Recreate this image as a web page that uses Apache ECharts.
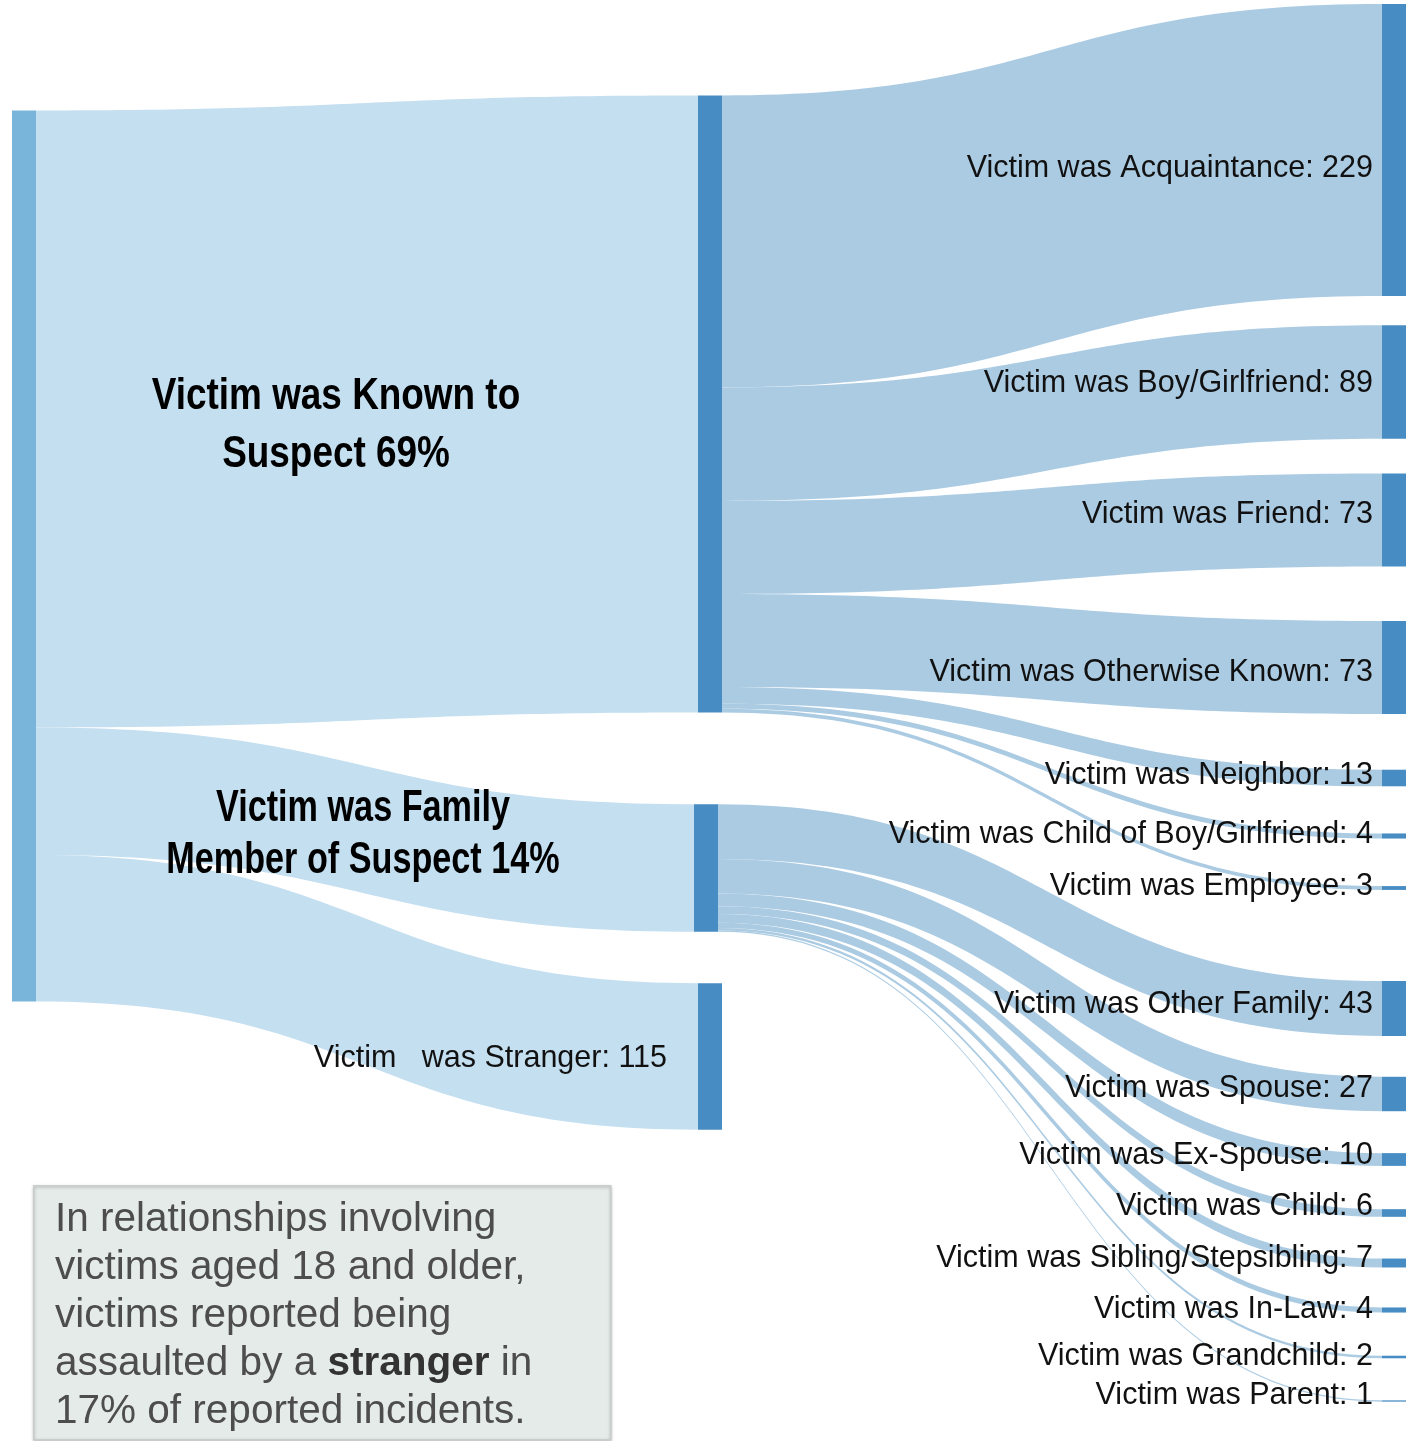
<!DOCTYPE html>
<html>
<head>
<meta charset="utf-8">
<script src="https://cdn.jsdelivr.net/npm/echarts@6/dist/echarts.min.js"></script>
<style>
  html, body { margin: 0; padding: 0; background: #ffffff; }
  #chart { width: 1413px; height: 1441px; }
</style>
</head>
<body>
<div id="chart"></div>
<script>
// ---------------- DATA ----------------
const rootName = 'Victims aged 18 and older';
const groupNames = ['Victim was Known to Suspect', 'Victim was Family Member of Suspect', 'Victim was Stranger'];
const groupLabels = ['Victim was Known to\nSuspect 69%', 'Victim was Family\nMember of Suspect 14%', 'Victim   was Stranger'];
const knownCategories = ['Victim was Acquaintance', 'Victim was Boy/Girlfriend', 'Victim was Friend',
  'Victim was Otherwise Known', 'Victim was Neighbor', 'Victim was Child of Boy/Girlfriend', 'Victim was Employee'];
const knownValues = [229, 89, 73, 73, 13, 4, 3];
const familyCategories = ['Victim was Other Family', 'Victim was Spouse', 'Victim was Ex-Spouse', 'Victim was Child',
  'Victim was Sibling/Stepsibling', 'Victim was In-Law', 'Victim was Grandchild', 'Victim was Parent'];
const familyValues = [43, 27, 10, 6, 7, 4, 2, 1];
const strangerValue = 115;
const noteText = 'In relationships involving\nvictims aged 18 and older,\nvictims reported being\nassaulted by a {b|stranger} in\n17% of reported incidents.';

// ---------------- LAYOUT (pixels) ----------------
const W = 1413, H = 1441;
const KY = 1.275;                // px per incident (same scale ECharts derives below)
const NODE_W = 24;
const rootX = 12, rootCY = 556;
const groupX = [698, 694, 698], groupCY = [404, 868, 1056.5];
const groupLabelPos = [[336, 426, 58, 0.82], [363, 835, 52, 0.76]];   // centre x, centre y, line height, x-scale
const leafX = 1382;
const knownCY = [150, 382, 520, 667.5, 778, 836, 888];
const familyCY = [1008.5, 1094, 1159.5, 1213, 1263, 1310, 1357, 1401];
const knownLabelDY = [19, 2, -5, 5, -2, -1, -1];
const familyLabelDY = [-4, -5, -4, -6, -4, 0, 0, -5];

// ---------------- STYLE ----------------
const C_ROOT = '#79b5da', C_NODE = '#478cc3', C_LINK1 = '#c4dff0', C_LINK2 = '#abcbe3';
const FONT = "'Liberation Sans', Arial, sans-serif";

const sum = a => a.reduce((s, v) => s + v, 0);
const groupValues = [sum(knownValues), sum(familyValues), strangerValue];
const total = sum(groupValues);
// nodeGap chosen so that ECharts' own vertical scale equals KY (the 15 leaf nodes limit the scale)
const leafCount = knownCategories.length + familyCategories.length;
const leafTotal = sum(knownValues) + sum(familyValues);
const NODE_GAP = (H - leafTotal * KY) / (leafCount - 1);

function place(x, cy, value) {
  return { localX: x / W, localY: (cy - value * KY / 2) / H };
}

const nodes = [];
const links = [];
nodes.push(Object.assign({ name: rootName, itemStyle: { color: C_ROOT }, label: { show: false } },
  place(rootX, rootCY, total)));

groupNames.forEach((g, i) => {
  const n = Object.assign({ name: g, itemStyle: { color: C_NODE } }, place(groupX[i], groupCY[i], groupValues[i]));
  if (i < 2) {
    n.label = { show: false };   // drawn below as condensed bold text
  } else {
    n.label = { position: 'left', distance: 31, offset: [0, 2], fontFamily: FONT, fontSize: 30.5, color: '#111',
      formatter: p => groupLabels[i] + ': ' + p.value };
  }
  nodes.push(n);
  links.push({ source: rootName, target: g, value: groupValues[i], lineStyle: { color: C_LINK1 } });
});

function addLeaves(parent, cats, vals, cys, dys) {
  cats.forEach((c, i) => {
    nodes.push(Object.assign({ name: c, itemStyle: { color: C_NODE }, label: { offset: [0, dys[i]] } },
      place(leafX, cys[i], vals[i])));
    links.push({ source: parent, target: c, value: vals[i], lineStyle: { color: C_LINK2 } });
  });
}
addLeaves(groupNames[0], knownCategories, knownValues, knownCY, knownLabelDY);
addLeaves(groupNames[1], familyCategories, familyValues, familyCY, familyLabelDY);

const condensedLabels = groupLabelPos.map((p, i) => ({
  type: 'text', x: p[0], y: p[1], scaleX: p[3], scaleY: 1, z: 50,
  style: { text: groupLabels[i], align: 'center', verticalAlign: 'middle',
    fontFamily: FONT, fontWeight: 'bold', fontSize: 45, lineHeight: p[2], fill: '#000' }
}));

const chart = echarts.init(document.getElementById('chart'), null, { renderer: 'canvas' });
chart.setOption({
  backgroundColor: '#ffffff',
  animation: false,
  series: [{
    type: 'sankey',
    left: 0, top: 0, right: 0, bottom: 0,
    nodeWidth: NODE_W,
    nodeGap: NODE_GAP,
    nodeAlign: 'left',
    layoutIterations: 0,
    draggable: false,
    emphasis: { disabled: true },
    data: nodes,
    links: links,
    label: {
      show: true, position: 'left', distance: 9,
      fontFamily: FONT, fontSize: 30.5, color: '#111',
      formatter: p => p.name + ': ' + p.value
    },
    itemStyle: { borderWidth: 0 },
    lineStyle: { curveness: 0.5, opacity: 1 }
  }],
  graphic: condensedLabels.concat([
    { type: 'rect', left: 33, top: 1185, z: 100,
      shape: { width: 577, height: 254 },
      style: { fill: '#e4ebe8', stroke: '#c9cdcb', lineWidth: 1.5,
        shadowBlur: 3, shadowColor: 'rgba(0,0,0,0.25)', shadowOffsetX: 0, shadowOffsetY: 1 } },
    { type: 'text', left: 55, top: 1196, z: 101,
      style: { text: noteText, fontFamily: FONT, fontSize: 40.5, lineHeight: 48, fill: '#4d4d4d',
        rich: { b: { fontFamily: FONT, fontSize: 40.5, lineHeight: 48, fontWeight: 'bold', fill: '#333' } } } }
  ])
});
</script>
</body>
</html>
